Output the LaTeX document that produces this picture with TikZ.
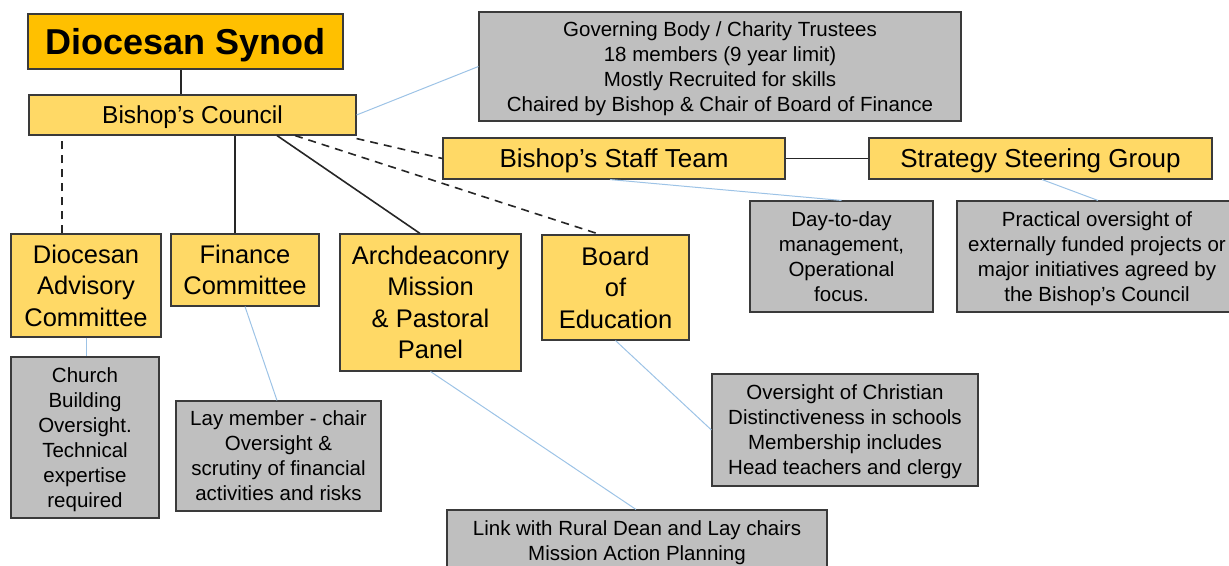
\documentclass[tikz,border=0pt]{standalone}
\usepackage{fontspec}
\setmainfont{Liberation Sans}
\usetikzlibrary{calc}
\definecolor{synodfill}{HTML}{FFC000}
\definecolor{boxfill}{HTML}{FFD966}
\definecolor{grayfill}{HTML}{BFBFBF}
\definecolor{edge}{HTML}{3A3A3A}
\definecolor{noteline}{HTML}{9DC3E6}
\tikzset{
  box/.style={draw=edge, line width=1.1pt, inner sep=0pt, align=center, anchor=center, text=black, text depth=0pt},
  ybox/.style={box, fill=boxfill},
  gbox/.style={box, fill=grayfill, font=\fontsize{20.5}{25}\selectfont},
  multi/.style={font=\fontsize{25.5}{31.5}\selectfont},
  single/.style={font=\fontsize{26}{30}\selectfont},
  solidlink/.style={draw=black!85, line width=1.6pt},
  dashlink/.style={draw=black!85, line width=1.6pt, dash pattern=on 8pt off 6pt},
  notelink/.style={draw=noteline, line width=1pt},
}
\begin{document}
\begin{tikzpicture}[x=1pt,y=-1pt]
\useasboundingbox (0,0) rectangle (1229,565);
\begin{scope}
\clip (0,0) rectangle (1229,565);
% main boxes
\node[box, fill=synodfill, minimum width=315pt, minimum height=55pt, font=\bfseries\fontsize{36}{40}\selectfont] (synod) at (185.5,41.5) {Diocesan Synod};
\node[ybox, minimum width=327pt, minimum height=40pt, font=\fontsize{24.5}{28}\selectfont] (council) at (192.5,115) {Bishop’s Council};
\node[gbox, minimum width=482pt, minimum height=109pt] (gov) at (720,66.5) {Governing Body / Charity Trustees\\18 members (9 year limit)\\Mostly Recruited for skills\\Chaired by Bishop \& Chair of Board of Finance};
\node[ybox, single, minimum width=342pt, minimum height=41pt] (staff) at (614,158.5) {Bishop’s Staff Team};
\node[ybox, single, minimum width=343pt, minimum height=41pt] (strat) at (1040.5,158.5) {Strategy Steering Group};
\node[gbox, minimum width=183pt, minimum height=111pt] (day) at (841.5,256.5) {Day-to-day\\management,\\Operational\\focus.};
\node[gbox, minimum width=280pt, minimum height=111pt] (prac) at (1097,256.5) {Practical oversight of\\externally funded projects or\\major initiatives agreed by\\the Bishop’s Council};
\node[ybox, multi, minimum width=150pt, minimum height=103pt] (dac) at (86,285.5) {Diocesan\\Advisory\\Committee};
\node[ybox, multi, minimum width=148pt, minimum height=72pt] (fin) at (245,270) {Finance\\Committee};
\node[ybox, multi, minimum width=181pt, minimum height=137pt] (arch) at (430.5,302.5) {Archdeaconry\\Mission\\\& Pastoral\\Panel};
\node[ybox, multi, minimum width=147pt, minimum height=105pt] (board) at (615.5,287.5) {Board\\of\\Education};
\node[gbox, minimum width=148pt, minimum height=161pt] (church) at (85,437.5) {Church\\Building\\Oversight.\\Technical\\expertise\\required};
\node[gbox, minimum width=205pt, minimum height=110pt] (lay) at (278.5,456) {Lay member - chair\\Oversight \&\\scrutiny of financial\\activities and risks};
\node[gbox, minimum width=380pt, minimum height=62pt] (link) at (637,541) {Link with Rural Dean and Lay chairs\\Mission Action Planning};
\node[gbox, minimum width=266pt, minimum height=112pt] (over) at (845,430) {Oversight of Christian\\Distinctiveness in schools\\Membership includes\\Head teachers and clergy};
% hierarchy connectors
\draw[solidlink] ([xshift=-4.5pt]synod.south) -- ([xshift=-4.5pt]synod.south |- council.north);
\draw[dashlink] ([xshift=-24pt]dac.north) -- ([xshift=-24pt]dac.north |- council.south);
\draw[solidlink] ([xshift=-10pt]fin.north) -- ([xshift=-10pt]fin.north |- council.south);
\draw[solidlink] ([xshift=84.5pt]council.south) -- ([xshift=-10.5pt]arch.north);
\draw[dashlink] ([yshift=-3pt]council.south east) -- (staff.west);
\draw[dashlink] ([xshift=102.5pt]council.south) -- ([xshift=-15.5pt]board.north);
\draw[solidlink] (staff.east) -- (strat.west);
% note connectors
\draw[notelink] (council.east) -- (gov.west);
\draw[notelink] ([xshift=-4pt]staff.south) -- (day.north);
\draw[notelink] ([xshift=1.5pt]strat.south) -- ([xshift=1pt]prac.north);
\draw[notelink] (dac.south) -- (dac.south |- church.north);
\draw[notelink] (fin.south) -- ([xshift=-1.5pt]lay.north);
\draw[notelink] (arch.south) -- ([xshift=-1pt]link.north);
\draw[notelink] (board.south) -- (over.west);
\end{scope}
\end{tikzpicture}
\end{document}
